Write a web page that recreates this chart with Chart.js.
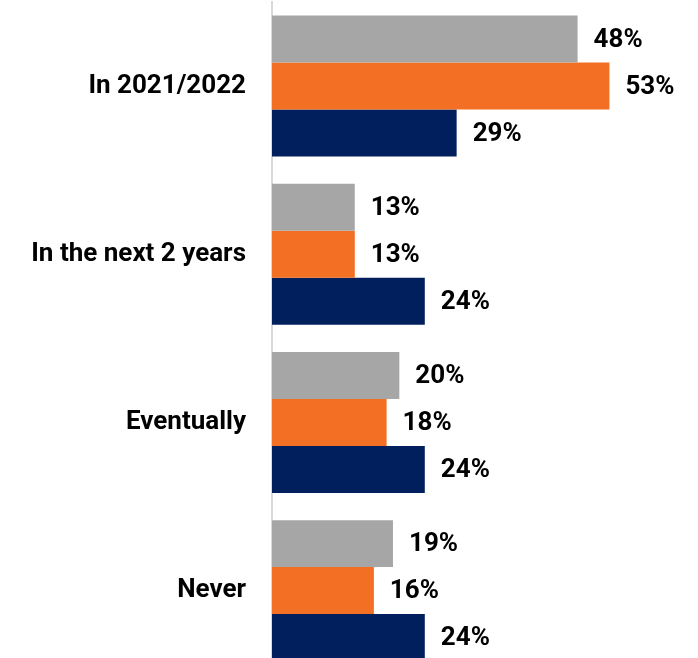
<!DOCTYPE html>
<html>
<head>
<meta charset="utf-8">
<script src="https://cdn.jsdelivr.net/npm/chart.js@4/dist/chart.umd.min.js"></script>
<style>
  html, body { margin: 0; padding: 0; background: #fff; width: 698px; height: 658px; overflow: hidden; }
  canvas { display: block; }
</style>
</head>
<body>
<canvas id="chart" width="698" height="676"></canvas>
<script>
const categories = ['In 2021/2022', 'In the next 2 years', 'Eventually', 'Never']
const seriesGray = [48, 13, 20, 19]
const seriesOrange = [53, 13, 18, 16]
const seriesNavy = [29, 24, 24, 24]

// percent labels at the end of each bar
const barLabels = {
    id: 'barLabels',
    afterDatasetsDraw(chart) {
        const ctx = chart.ctx
        ctx.save()
        ctx.font = 'bold 26px Roboto'
        ctx.fillStyle = '#000'
        ctx.textAlign = 'left'
        ctx.textBaseline = 'middle'
        chart.data.datasets.forEach((ds, i) => {
            chart.getDatasetMeta(i).data.forEach((bar, j) => {
                ctx.fillText(ds.data[j] + '%', bar.x + 16, bar.y + 1)
            })
        })
        ctx.restore()
    }
}

const ctx = document.getElementById('chart').getContext('2d')
const myChart = new Chart(ctx, {
    type: 'bar',
    data: {
        labels: categories,
        datasets: [
            { data: seriesGray, backgroundColor: '#A6A6A6' },
            { data: seriesOrange, backgroundColor: '#F36F24' },
            { data: seriesNavy, backgroundColor: '#001F5C' }
        ]
    },
    options: {
        indexAxis: 'y',
        responsive: false,
        animation: false,
        layout: { padding: { top: 2, bottom: 1, right: 44, left: 0 } },
        datasets: { bar: { barPercentage: 1, categoryPercentage: 0.838 } },
        plugins: { legend: { display: false }, tooltip: { enabled: false } },
        scales: {
            x: { display: false, min: 0, max: 60 },
            y: {
                // invisible tick marks make the gap, so the chart area is not shrunk vertically
                grid: { display: true, drawOnChartArea: false, drawTicks: true, tickLength: 26, color: 'rgba(0,0,0,0)' },
                border: { display: true, color: '#d9d9d9', width: 2 },
                ticks: {
                    color: '#000',
                    padding: 0,
                    font: { family: 'Roboto', size: 26, weight: 'bold', lineHeight: 0.1 }
                },
                afterFit(scale) { scale.width = 272 }
            }
        }
    },
    plugins: [barLabels]
})
</script>
</body>
</html>
